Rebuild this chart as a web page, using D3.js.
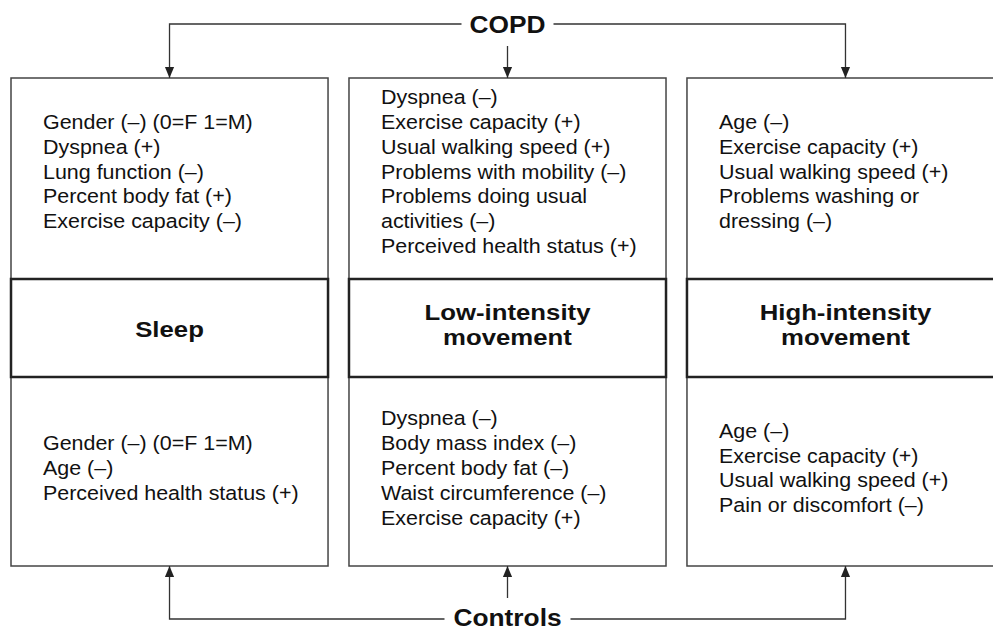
<!DOCTYPE html>
<html>
<head>
<meta charset="utf-8">
<script src="https://cdn.jsdelivr.net/npm/d3@7"></script>
<style>
  body { margin: 0; background: #fff; }
  svg { display: block; }
  text { font-family: "Liberation Sans", Arial, sans-serif; fill: #111; }
</style>
</head>
<body>
<div id="viz-container"></div>
<script>
// outcome columns
let columns = ["Sleep", "Low-intensity movement", "High-intensity movement"];
let columnLabels = [["Sleep"], ["Low-intensity", "movement"], ["High-intensity", "movement"]];

// factors from COPD (top half of each box)
let copdFactors = [
  ["Gender (\u2013) (0=F 1=M)", "Dyspnea (+)", "Lung function (\u2013)", "Percent body fat (+)", "Exercise capacity (\u2013)"],
  ["Dyspnea (\u2013)", "Exercise capacity (+)", "Usual walking speed (+)", "Problems with mobility (\u2013)", "Problems doing usual", "activities (\u2013)", "Perceived health status (+)"],
  ["Age (\u2013)", "Exercise capacity (+)", "Usual walking speed (+)", "Problems washing or", "dressing (\u2013)"]
];

// factors from controls (bottom half)
let controlFactors = [
  ["Gender (\u2013) (0=F 1=M)", "Age (\u2013)", "Perceived health status (+)"],
  ["Dyspnea (\u2013)", "Body mass index (\u2013)", "Percent body fat (\u2013)", "Waist circumference (\u2013)", "Exercise capacity (+)"],
  ["Age (\u2013)", "Exercise capacity (+)", "Usual walking speed (+)", "Pain or discomfort (\u2013)"]
];

let sources = ["COPD", "Controls"];

let W = 993, H = 626;
let boxTop = 78, boxBottom = 566;
let bandTop = 279, bandBottom = 377;
let lineH = 24.8;

let viz = d3.select("#viz-container")
  .append("svg")
    .attr("width", W)
    .attr("height", H);

viz.append("defs").append("marker")
    .attr("id", "arrow")
    .attr("viewBox", "0 0 12 10")
    .attr("refX", 12).attr("refY", 5)
    .attr("markerUnits", "userSpaceOnUse")
    .attr("markerWidth", 11).attr("markerHeight", 13)
    .attr("orient", "auto")
  .append("path")
    .attr("d", "M0,0 L12,5 L0,10 Z")
    .attr("fill", "#222");

let x = d3.scaleBand()
  .domain(columns)
  .range([11, 1004])
  .paddingInner(0.062)
  .paddingOuter(0);

function mid(d) { return x(d) + x.bandwidth() / 2; }

// outer boxes
viz.selectAll(".box").data(columns).enter().append("rect")
  .attr("class", "box")
  .attr("x", d => x(d))
  .attr("y", boxTop)
  .attr("width", x.bandwidth())
  .attr("height", boxBottom - boxTop)
  .attr("fill", "none")
  .attr("stroke", "#444")
  .attr("stroke-width", 1.5);

// middle band with outcome label
viz.selectAll(".band").data(columns).enter().append("rect")
  .attr("class", "band")
  .attr("x", d => x(d))
  .attr("y", bandTop)
  .attr("width", x.bandwidth())
  .attr("height", bandBottom - bandTop)
  .attr("fill", "#fff")
  .attr("stroke", "#222")
  .attr("stroke-width", 2.5);

let labelG = viz.selectAll(".label").data(columns).enter().append("g")
  .attr("class", "label");

labelG.each(function(d, i) {
  let lines = columnLabels[i];
  let c = (bandTop + bandBottom) / 2;
  let lh = 25;
  let y0 = c - (lines.length - 1) * lh / 2 + 8.5;
  if (lines.length > 1) y0 -= 4;
  d3.select(this).selectAll("text").data(lines).enter().append("text")
    .attr("transform", (t, j) => `translate(${mid(d)},${y0 + j * lh}) scale(1.12,1)`)
    .attr("text-anchor", "middle")
    .attr("font-weight", "bold")
    .attr("font-size", "23px")
    .text(t => t);
});

// factor lists
function drawList(lists, center, cls) {
  viz.selectAll("." + cls).data(columns).enter().append("g")
    .attr("class", cls)
    .each(function(d, i) {
      let lines = lists[i];
      let y0 = center - (lines.length - 1) * lineH / 2 + 7;
      d3.select(this).selectAll("text").data(lines).enter().append("text")
        .attr("transform", (t, j) => `translate(${x(d) + 32},${y0 + j * lineH}) scale(1.1,1)`)
        .attr("font-size", "19.5px")
        .text(t => t);
    });
}
drawList(copdFactors, 171.5, "copd-list");
drawList(controlFactors, 468, "ctrl-list");

// connectors
let copdY = 24, ctrlY = 619;
let gapHalf = { "COPD": 46, "Controls": 63 };
let line = d3.line();

function connect(src, yLine, yEnd, yStub, textDy) {
  let c = mid(columns[1]);
  let left = mid(columns[0]), right = mid(columns[2]);
  let g = viz.append("g").attr("class", "connector");
  g.append("path")
    .attr("d", line([[c - gapHalf[src], yLine], [left, yLine], [left, yEnd]]))
    .attr("fill", "none").attr("stroke", "#333").attr("stroke-width", 1.3)
    .attr("marker-end", "url(#arrow)");
  g.append("path")
    .attr("d", line([[c + gapHalf[src], yLine], [right, yLine], [right, yEnd]]))
    .attr("fill", "none").attr("stroke", "#333").attr("stroke-width", 1.3)
    .attr("marker-end", "url(#arrow)");
  g.append("path")
    .attr("d", line([[c, yStub], [c, yEnd]]))
    .attr("fill", "none").attr("stroke", "#333").attr("stroke-width", 1.3)
    .attr("marker-end", "url(#arrow)");
  g.append("text")
    .attr("transform", `translate(${c},${yLine + textDy}) scale(1.12,1)`)
    .attr("text-anchor", "middle")
    .attr("font-weight", "bold")
    .attr("font-size", "23.5px")
    .text(src);
}
connect(sources[0], copdY, boxTop, 46, 9);
connect(sources[1], ctrlY, boxBottom, 598, 6.5);
</script>
</body>
</html>
